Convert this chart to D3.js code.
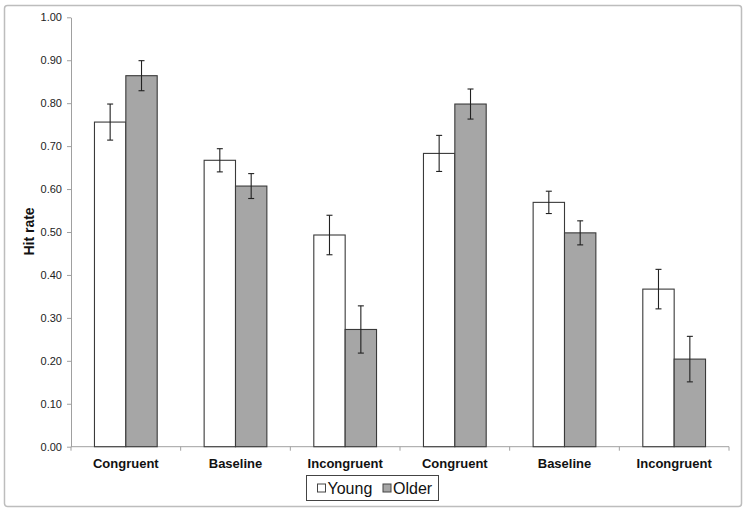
<!DOCTYPE html>
<html>
<head>
<meta charset="utf-8">
<script src="https://cdn.jsdelivr.net/npm/d3@7"></script>
<style>
  html, body { margin: 0; padding: 0; background: #fff; }
  svg { display: block; font-family: "Liberation Sans", Arial, sans-serif; }
</style>
</head>
<body>
<svg id="chart" width="750" height="514"></svg>
<script>
const categories = ["Congruent", "Baseline", "Incongruent", "Congruent", "Baseline", "Incongruent"];
const seriesNames = ["Young", "Older"];
const youngValues = [0.756, 0.667, 0.493, 0.683, 0.569, 0.367];
const youngErrors = [0.042, 0.027, 0.046, 0.042, 0.026, 0.046];
const olderValues = [0.864, 0.607, 0.273, 0.798, 0.498, 0.204];
const olderErrors = [0.035, 0.029, 0.055, 0.035, 0.028, 0.053];
const yTicks = [0, 0.1, 0.2, 0.3, 0.4, 0.5, 0.6, 0.7, 0.8, 0.9, 1.0];

const svg = d3.select("#chart");
const plotLeft = 71, plotRight = 729, plotTop = 17.3, plotBottom = 446.7;

// outer border
svg.append("rect")
  .attr("x", 4.5).attr("y", 5.5).attr("width", 737).attr("height", 501)
  .attr("rx", 3).attr("fill", "#fff").attr("stroke", "#bdbdbd").attr("stroke-width", 1.5);

const idx = categories.map((c, i) => i);
const x = d3.scaleBand().domain(idx).range([plotLeft, plotRight]).paddingInner(0).paddingOuter(0);
const y = d3.scaleLinear().domain([0, 1]).range([plotBottom, plotTop]);
const groupPad = 0.214; // fraction of band left empty on each side
const barW = x.bandwidth() * (1 - 2 * groupPad) / 2;
const sub = d3.scaleBand().domain(seriesNames).range([0, barW * 2]);

// Y axis
const yAxis = d3.axisLeft(y).tickValues(yTicks).tickFormat(d3.format(".2f")).tickSize(4).tickSizeOuter(0);
const gy = svg.append("g").attr("transform", `translate(${plotLeft},0)`).call(yAxis);
gy.select(".domain").attr("stroke", "#a0a0a0");
gy.selectAll(".tick line").attr("stroke", "#a0a0a0");
gy.selectAll(".tick text").attr("font-size", 11).attr("fill", "#222").attr("x", -9)
  .style("font-family", "Liberation Sans, Arial, sans-serif");

// X axis
const gx = svg.append("g").attr("transform", `translate(0,${plotBottom})`);
gx.append("line").attr("x1", plotLeft).attr("x2", plotRight).attr("y1", 0).attr("y2", 0).attr("stroke", "#a0a0a0");
const boundaries = idx.map(i => x(i)).concat([plotRight]);
gx.selectAll("line.tk").data(boundaries).enter().append("line").attr("class", "tk")
  .attr("x1", d => d).attr("x2", d => d).attr("y1", 0).attr("y2", 4).attr("stroke", "#a0a0a0");
gx.selectAll("text").data(categories).enter().append("text")
  .attr("x", (d, i) => x(i) + x.bandwidth() / 2).attr("y", 21)
  .attr("text-anchor", "middle").attr("font-size", 13).attr("font-weight", "bold").attr("fill", "#111")
  .text(d => d);

// Bars
const data = [];
categories.forEach((c, i) => {
  data.push({ i, s: "Young", v: youngValues[i], e: youngErrors[i] });
  data.push({ i, s: "Older", v: olderValues[i], e: olderErrors[i] });
});
const fill = { Young: "#ffffff", Older: "#a6a6a6" };
const bx = d => x(d.i) + x.bandwidth() * groupPad + sub(d.s);

svg.append("g").selectAll("rect").data(data).enter().append("rect")
  .attr("x", d => bx(d)).attr("y", d => y(d.v))
  .attr("width", barW).attr("height", d => y(0) - y(d.v))
  .attr("fill", d => fill[d.s]).attr("stroke", "#3a3a3a").attr("stroke-width", 1.1);

// Error bars
const eg = svg.append("g").attr("stroke", "#222").attr("stroke-width", 1.1);
data.forEach(d => {
  const cx = bx(d) + barW / 2;
  eg.append("line").attr("x1", cx).attr("x2", cx).attr("y1", y(d.v + d.e)).attr("y2", y(d.v - d.e));
  eg.append("line").attr("x1", cx - 3).attr("x2", cx + 3).attr("y1", y(d.v + d.e)).attr("y2", y(d.v + d.e));
  eg.append("line").attr("x1", cx - 3).attr("x2", cx + 3).attr("y1", y(d.v - d.e)).attr("y2", y(d.v - d.e));
});

// Y title
svg.append("text")
  .attr("transform", "translate(33.5,231.5) rotate(-90)")
  .attr("text-anchor", "middle").attr("font-size", 14).attr("font-weight", "bold").attr("fill", "#111")
  .text("Hit rate");

// Legend
const lg = svg.append("g");
lg.append("rect").attr("x", 306.5).attr("y", 475.5).attr("width", 132).attr("height", 25)
  .attr("fill", "#fff").attr("stroke", "#444").attr("stroke-width", 1);
const legendItems = [{ s: "Young", x: 317.5 }, { s: "Older", x: 383 }];
legendItems.forEach(it => {
  lg.append("rect").attr("x", it.x).attr("y", 484).attr("width", 8).attr("height", 8)
    .attr("fill", fill[it.s]).attr("stroke", "#444").attr("stroke-width", 1);
  lg.append("text").attr("x", it.x + 10).attr("y", 494).attr("font-size", 16).attr("fill", "#111").text(it.s);
});
</script>
</body>
</html>
